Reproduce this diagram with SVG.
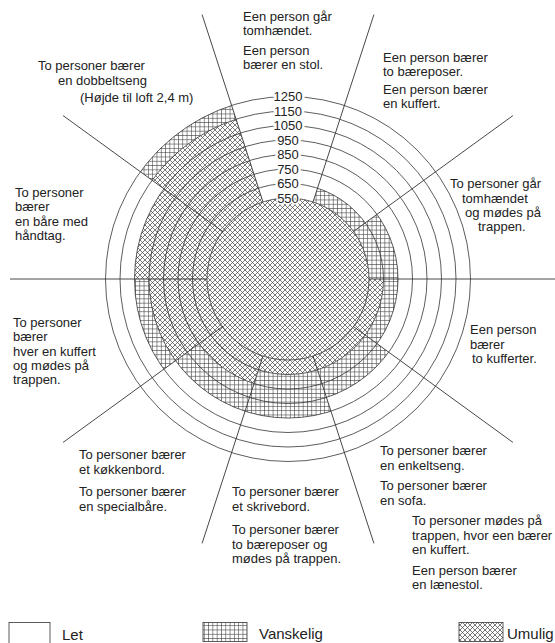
<svg xmlns="http://www.w3.org/2000/svg" width="555" height="643" viewBox="0 0 555 643">
<style>
.t{font-family:"Liberation Sans",Arial,sans-serif;font-size:13px;fill:#222}
.lg{font-family:"Liberation Sans",Arial,sans-serif;font-size:15px;fill:#222}
.num{font-family:"Liberation Sans",Arial,sans-serif;font-size:13px;fill:#222;text-anchor:middle;stroke:#fff;stroke-width:5;paint-order:stroke;stroke-linejoin:round}
.ring{fill:none;stroke:#333;stroke-width:0.8}
.ray{stroke:#333;stroke-width:0.9;fill:none}
.d{fill:url(#diag);stroke:none}
.g{fill:url(#grid);stroke:none}
.box{stroke:#333;stroke-width:0.8}
</style>
<defs>
<pattern id="diag" width="5" height="5" patternUnits="userSpaceOnUse">
<rect width="5" height="5" fill="#fff"/>
<path d="M-1,-1L6,6M6,-1L-1,6" stroke="#444" stroke-width="0.7"/>
</pattern>
<pattern id="grid" width="4.3" height="4.3" patternUnits="userSpaceOnUse">
<rect width="4.3" height="4.3" fill="#fff"/>
<path d="M0,2.15H4.3M2.15,0V4.3" stroke="#444" stroke-width="0.6"/>
</pattern>
</defs>
<rect width="555" height="643" fill="#fff"/>

<g id="hatch">
<circle class="d" cx="288" cy="279" r="81"/>
<path class="d" d="M152.08,180.25A168,168 0 0 1 236.08,119.22L262.97,201.96A81,81 0 0 0 222.47,231.39Z"/>
<path class="d" d="M134.5,279A153.5,153.5 0 0 1 163.82,188.77L222.47,231.39A81,81 0 0 0 207,279Z"/>
<path class="d" d="M175.55,360.7A139,139 0 0 1 149,279L207,279A81,81 0 0 0 222.47,326.61Z"/>
<path class="d" d="M254.01,383.62A110,110 0 0 1 199.01,343.66L222.47,326.61A81,81 0 0 0 262.97,356.04Z"/>
<path class="d" d="M383.5,279A95.5,95.5 0 0 1 258.49,369.83L262.97,356.04A81,81 0 0 0 369,279Z"/>
<path class="g" d="M140.35,171.73A182.5,182.5 0 0 1 231.6,105.43L236.08,119.22A168,168 0 0 0 152.08,180.25Z"/>
<path class="g" d="M163.82,369.23A153.5,153.5 0 0 1 134.5,279L149,279A139,139 0 0 0 175.55,360.7Z"/>
<path class="g" d="M245.05,411.2A139,139 0 0 1 175.55,360.7L199.01,343.66A110,110 0 0 0 254.01,383.62Z"/>
<path class="g" d="M330.95,411.2A139,139 0 0 1 245.05,411.2L258.49,369.83A95.5,95.5 0 0 0 317.51,369.83Z"/>
<path class="g" d="M388.72,352.18A124.5,124.5 0 0 1 326.47,397.41L317.51,369.83A95.5,95.5 0 0 0 365.26,335.13Z"/>
<path class="g" d="M398,279A110,110 0 0 1 376.99,343.66L365.26,335.13A95.5,95.5 0 0 0 383.5,279Z"/>
<path class="g" d="M376.99,214.34A110,110 0 0 1 398,279L369,279A81,81 0 0 0 353.53,231.39Z"/>
<path class="g" d="M317.51,188.17A95.5,95.5 0 0 1 365.26,222.87L353.53,231.39A81,81 0 0 0 313.03,201.96Z"/>
</g>

<g id="rings">
<circle class="ring" cx="288" cy="279" r="81"/>
<circle class="ring" cx="288" cy="279" r="95.5"/>
<circle class="ring" cx="288" cy="279" r="110"/>
<circle class="ring" cx="288" cy="279" r="124.5"/>
<circle class="ring" cx="288" cy="279" r="139"/>
<circle class="ring" cx="288" cy="279" r="153.5"/>
<circle class="ring" cx="288" cy="279" r="168"/>
<circle class="ring" cx="288" cy="279" r="182.5"/>
</g>

<g id="connectors">
<line class="ray" x1="313.03" y1="201.96" x2="373.91" y2="14.61"/>
<line class="ray" x1="353.53" y1="231.39" x2="512.91" y2="115.59"/>
<line class="ray" x1="369" y1="279" x2="555" y2="279"/>
<line class="ray" x1="353.53" y1="326.61" x2="512.91" y2="442.41"/>
<line class="ray" x1="313.03" y1="356.04" x2="373.91" y2="543.39"/>
<line class="ray" x1="262.97" y1="356.04" x2="202.09" y2="543.39"/>
<line class="ray" x1="222.47" y1="326.61" x2="63.09" y2="442.41"/>
<line class="ray" x1="207" y1="279" x2="10" y2="279"/>
<line class="ray" x1="222.47" y1="231.39" x2="63.09" y2="115.59"/>
<line class="ray" x1="262.97" y1="201.96" x2="202.09" y2="14.61"/>
</g>

<g id="widths">
<text class="num" x="288" y="101.1">1250</text>
<text class="num" x="288" y="115.6">1150</text>
<text class="num" x="288" y="130.1">1050</text>
<text class="num" x="288" y="144.6">950</text>
<text class="num" x="288" y="159.1">850</text>
<text class="num" x="288" y="173.6">750</text>
<text class="num" x="288" y="188.1">650</text>
<text class="num" x="288" y="202.6" style="stroke-width:3">550</text>
</g>

<g id="n-top">
<text class="t" x="243" y="20.5">Een person går</text>
<text class="t" x="243" y="35">tomhændet.</text>
<text class="t" x="243" y="54.5">Een person</text>
<text class="t" x="243" y="69">bærer en stol.</text>
</g>
<g id="n-topright">
<text class="t" x="383" y="62">Een person bærer</text>
<text class="t" x="383" y="76">to bæreposer.</text>
<text class="t" x="383" y="93.5">Een person bærer</text>
<text class="t" x="383" y="108">en kuffert.</text>
</g>
<g id="n-topleft">
<text class="t" x="38" y="70">To personer bærer</text>
<text class="t" x="58" y="85">en dobbeltseng</text>
<text class="t" x="80" y="102">(Højde til loft 2,4 m)</text>
</g>
<g id="n-leftupper">
<text class="t" x="15" y="197">To personer</text>
<text class="t" x="15" y="211">bærer</text>
<text class="t" x="15" y="225.5">en båre med</text>
<text class="t" x="15" y="240">håndtag.</text>
</g>
<g id="n-rightupper">
<text class="t" x="450" y="188">To personer går</text>
<text class="t" x="462" y="202.5">tomhændet</text>
<text class="t" x="465" y="217">og mødes på</text>
<text class="t" x="478" y="231">trappen.</text>
</g>
<g id="n-leftlower">
<text class="t" x="13" y="327">To personer</text>
<text class="t" x="13" y="341">bærer</text>
<text class="t" x="13" y="355.5">hver en kuffert</text>
<text class="t" x="13" y="370">og mødes på</text>
<text class="t" x="13" y="384">trappen.</text>
</g>
<g id="n-rightlower">
<text class="t" x="470" y="334">Een person</text>
<text class="t" x="470" y="348.5">bærer</text>
<text class="t" x="472" y="363">to kufferter.</text>
</g>
<g id="n-bottomleft">
<text class="t" x="79" y="459">To personer bærer</text>
<text class="t" x="79" y="474">et køkkenbord.</text>
<text class="t" x="79" y="496">To personer bærer</text>
<text class="t" x="79" y="510.5">en specialbåre.</text>
</g>
<g id="n-bottom">
<text class="t" x="232" y="496">To personer bærer</text>
<text class="t" x="232" y="510.5">et skrivebord.</text>
<text class="t" x="232" y="534">To personer bærer</text>
<text class="t" x="232" y="548.5">to bæreposer og</text>
<text class="t" x="232" y="563">mødes på trappen.</text>
</g>
<g id="n-bottomright">
<text class="t" x="380" y="455">To personer bærer</text>
<text class="t" x="380" y="469.5">en enkeltseng.</text>
<text class="t" x="380" y="490">To personer bærer</text>
<text class="t" x="380" y="504.5">en sofa.</text>
<text class="t" x="412" y="525">To personer mødes på</text>
<text class="t" x="412" y="539.5">trappen, hvor een bærer</text>
<text class="t" x="412" y="554">en kuffert.</text>
<text class="t" x="412" y="574.5">Een person bærer</text>
<text class="t" x="412" y="589">en lænestol.</text>
</g>

<g id="legend-let">
<rect class="box" x="9" y="622.5" width="41" height="25" fill="#fff"/>
<text class="lg" x="62" y="640">Let</text>
</g>
<g id="legend-vanskelig">
<rect class="box" x="203" y="622.5" width="44" height="19" fill="url(#grid)"/>
<text class="lg" x="259" y="639">Vanskelig</text>
</g>
<g id="legend-umulig">
<rect class="box" x="459" y="622.5" width="44" height="19" fill="url(#diag)"/>
<text class="lg" x="507" y="639">Umulig</text>
</g>
</svg>
